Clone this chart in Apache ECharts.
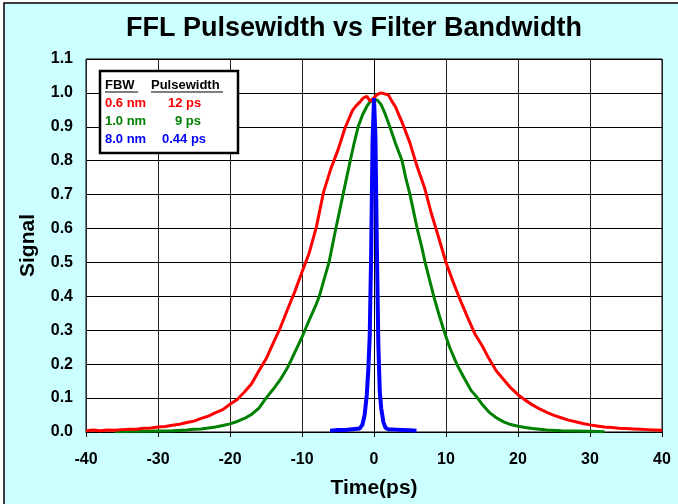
<!DOCTYPE html>
<html>
<head>
<meta charset="utf-8">
<script src="https://cdn.jsdelivr.net/npm/echarts@6/dist/echarts.min.js"></script>
<style>html,body{margin:0;padding:0;background:#fff}#c{width:678px;height:504px}</style>
</head>
<body>
<div id="c"></div>
<script>
// Data: [time (ps), signal]
const xTicks = { min: -40, max: 40, step: 10 };
const yTicks = { min: 0, max: 1.1, step: 0.1 };
const legendRows = [
  { fbw: '0.6 nm', pw: '12 ps', color: '#FF0000' },
  { fbw: '1.0 nm', pw: '9 ps', color: '#008000' },
  { fbw: '8.0 nm', pw: '0.44 ps', color: '#0000FF' }
];
const redCurve = [
  [-40,0.004],[-39,0.006],[-38,0.004],[-37,0.006],[-36,0.005],[-35,0.007],[-34,0.008],[-33,0.008],
  [-32,0.011],[-31,0.012],[-30,0.015],[-29,0.016],[-28,0.020],[-27,0.023],[-26,0.028],[-25,0.032],
  [-24,0.040],[-23,0.047],[-22,0.057],[-21,0.066],[-20,0.082],[-19,0.096],[-18,0.118],[-17,0.142],
  [-16,0.180],[-15,0.215],[-14,0.262],[-13,0.308],[-12,0.362],[-11,0.414],[-10,0.472],[-9,0.528],
  [-8,0.605],[-7,0.708],[-6,0.776],[-5,0.832],[-4,0.898],[-3,0.948],[-2.5,0.962],[-2,0.972],
  [-1.5,0.985],[-1,0.990],[-0.5,0.975],[0,0.986],[0.5,0.996],[1,1.000],[1.5,0.997],[2,0.994],
  [2.5,0.975],[3,0.958],[4,0.908],[5,0.852],[6,0.782],[7,0.722],[8,0.642],[9,0.572],[10,0.500],
  [11,0.442],[12,0.388],[13,0.338],[14,0.290],[15,0.255],[16,0.215],[17,0.180],[18,0.155],
  [19,0.130],[20,0.110],[21,0.094],[22,0.080],[23,0.068],[24,0.058],[25,0.049],[26,0.042],
  [27,0.035],[28,0.030],[29,0.025],[30,0.021],[31,0.018],[32,0.015],[33,0.013],[34,0.011],
  [35,0.010],[36,0.009],[37,0.008],[38,0.007],[39,0.006],[40,0.005]
];
const greenCurve = [
  [-36,0.001],[-34,0.002],[-32,0.002],[-30,0.003],[-28,0.004],[-26,0.006],[-25,0.008],[-24,0.009],
  [-23,0.012],[-22,0.015],[-21,0.019],[-20,0.024],[-19,0.031],[-18,0.040],[-17,0.052],[-16,0.070],
  [-15,0.100],[-14,0.126],[-13,0.155],[-12,0.190],[-11,0.235],[-10,0.280],[-9.6,0.300],[-9,0.330],
  [-8,0.378],[-7.6,0.400],[-7,0.445],[-6.25,0.500],[-5.8,0.548],[-5.3,0.600],[-4.8,0.650],[-4.3,0.700],
  [-3.8,0.750],[-3.3,0.800],[-2.8,0.848],[-2.2,0.900],[-1.6,0.935],[-1,0.960],[-0.5,0.975],[0,0.982],
  [0.5,0.978],[1,0.965],[1.6,0.935],[2.2,0.900],[3,0.850],[3.9,0.800],[4.4,0.750],[5,0.700],
  [5.5,0.650],[6,0.600],[6.6,0.548],[7.1,0.500],[7.7,0.450],[8.3,0.400],[9,0.348],[9.7,0.300],
  [10.5,0.250],[11.5,0.200],[12.5,0.160],[13.5,0.122],[14.4,0.100],[15,0.082],[16,0.058],
  [17,0.042],[18,0.030],[19,0.022],[20,0.017],[21,0.013],[22,0.010],[23,0.008],[24,0.006],
  [26,0.004],[28,0.003],[30,0.002],[32,0.001]
];
const blueCurve = [
  [-6.1,0.004],[-5,0.006],[-4,0.006],[-3,0.008],[-2,0.010],[-1.6,0.022],[-1.3,0.050],[-1.0,0.110],
  [-0.8,0.180],[-0.6,0.280],[-0.4,0.520],[-0.2,0.860],[0,0.985],[0.2,0.870],[0.4,0.540],[0.6,0.260],
  [0.8,0.120],[1.0,0.070],[1.3,0.030],[1.6,0.012],[2,0.008],[3,0.007],[4,0.006],[5,0.005],[5.9,0.004]
];

const FONT = '"Liberation Sans", Arial, sans-serif';
const chart = echarts.init(document.getElementById('c'), null, { renderer: 'canvas' });

const legendX = 100, legendY = 71;
const legendEls = [
  { type: 'rect', shape: { x: legendX, y: legendY, width: 138, height: 82 },
    style: { fill: '#fff', stroke: '#000', lineWidth: 2.5 }, z: 100 },
  { type: 'text', x: 105, y: 85, style: { text: 'FBW', font: 'bold 13px ' + FONT, fill: '#000', textVerticalAlign: 'middle' }, z: 101 },
  { type: 'line', shape: { x1: 105, y1: 92, x2: 138, y2: 92 }, style: { stroke: '#000', lineWidth: 1 }, z: 101 },
  { type: 'text', x: 151, y: 85, style: { text: 'Pulsewidth', font: 'bold 13px ' + FONT, fill: '#000', textVerticalAlign: 'middle' }, z: 101 },
  { type: 'line', shape: { x1: 151, y1: 92, x2: 223, y2: 92 }, style: { stroke: '#000', lineWidth: 1 }, z: 101 }
];
const rowY = [103, 121, 139];
const pwX = [168, 175, 162];
legendRows.forEach((r, i) => {
  legendEls.push({ type: 'text', x: 105, y: rowY[i], style: { text: r.fbw, font: 'bold 13px ' + FONT, fill: r.color, textVerticalAlign: 'middle' }, z: 101 });
  legendEls.push({ type: 'text', x: pwX[i], y: rowY[i], style: { text: r.pw, font: 'bold 13px ' + FONT, fill: r.color, textVerticalAlign: 'middle' }, z: 101 });
});

const option = {
  backgroundColor: '#fff',
  animation: false,
  graphic: [
    { type: 'rect', shape: { x: 4, y: 3, width: 720, height: 600 },
      style: { fill: '#CCFFFF', stroke: '#000', lineWidth: 1.5 }, z: -100 },
    { type: 'text', x: 354, y: 29, style: { text: 'FFL Pulsewidth vs Filter Bandwidth', font: 'bold 27px ' + FONT,
      fill: '#000', textAlign: 'center', textVerticalAlign: 'middle' }, z: 10 }
  ].concat(legendEls),
  grid: { left: 86, right: 16, top: 59, bottom: 72, show: true, backgroundColor: '#fff',
    borderColor: '#000', borderWidth: 1 },
  xAxis: {
    type: 'value', min: xTicks.min, max: xTicks.max, interval: xTicks.step,
    name: 'Time(ps)', nameLocation: 'middle', nameGap: 46,
    nameTextStyle: { fontFamily: FONT, fontWeight: 'bold', fontSize: 21, color: '#000' },
    axisLine: { show: true, onZero: false, lineStyle: { color: '#000', width: 1 } },
    axisTick: { show: true, inside: false, length: 5, lineStyle: { color: '#000' } },
    axisLabel: { fontFamily: FONT, fontWeight: 'bold', fontSize: 16, color: '#000', margin: 20 },
    splitLine: { show: true, lineStyle: { color: '#222', width: 1 } }
  },
  yAxis: {
    type: 'value', min: yTicks.min, max: yTicks.max, interval: yTicks.step,
    name: 'Signal', nameLocation: 'middle', nameGap: 47, nameRotate: 90,
    nameTextStyle: { fontFamily: FONT, fontWeight: 'bold', fontSize: 21, color: '#000' },
    axisLine: { show: true, lineStyle: { color: '#000', width: 1 } },
    axisTick: { show: true, inside: false, length: 5, lineStyle: { color: '#000' } },
    axisLabel: { fontFamily: FONT, fontWeight: 'bold', fontSize: 16, color: '#000', margin: 13,
      formatter: v => v.toFixed(1) },
    splitLine: { show: true, lineStyle: { color: '#000', width: 1 } }
  },
  series: [
    { name: '1.0 nm', type: 'line', data: greenCurve, showSymbol: false, symbol: 'none',
      lineStyle: { color: '#008000', width: 3 }, z: 3 },
    { name: '0.6 nm', type: 'line', data: redCurve, showSymbol: false, symbol: 'none',
      lineStyle: { color: '#FF0000', width: 3 }, z: 4 },
    { name: '8.0 nm', type: 'line', data: blueCurve, showSymbol: false, symbol: 'none',
      lineStyle: { color: '#0000FF', width: 4 }, z: 5 }
  ]
};
chart.setOption(option);
</script>
</body>
</html>
